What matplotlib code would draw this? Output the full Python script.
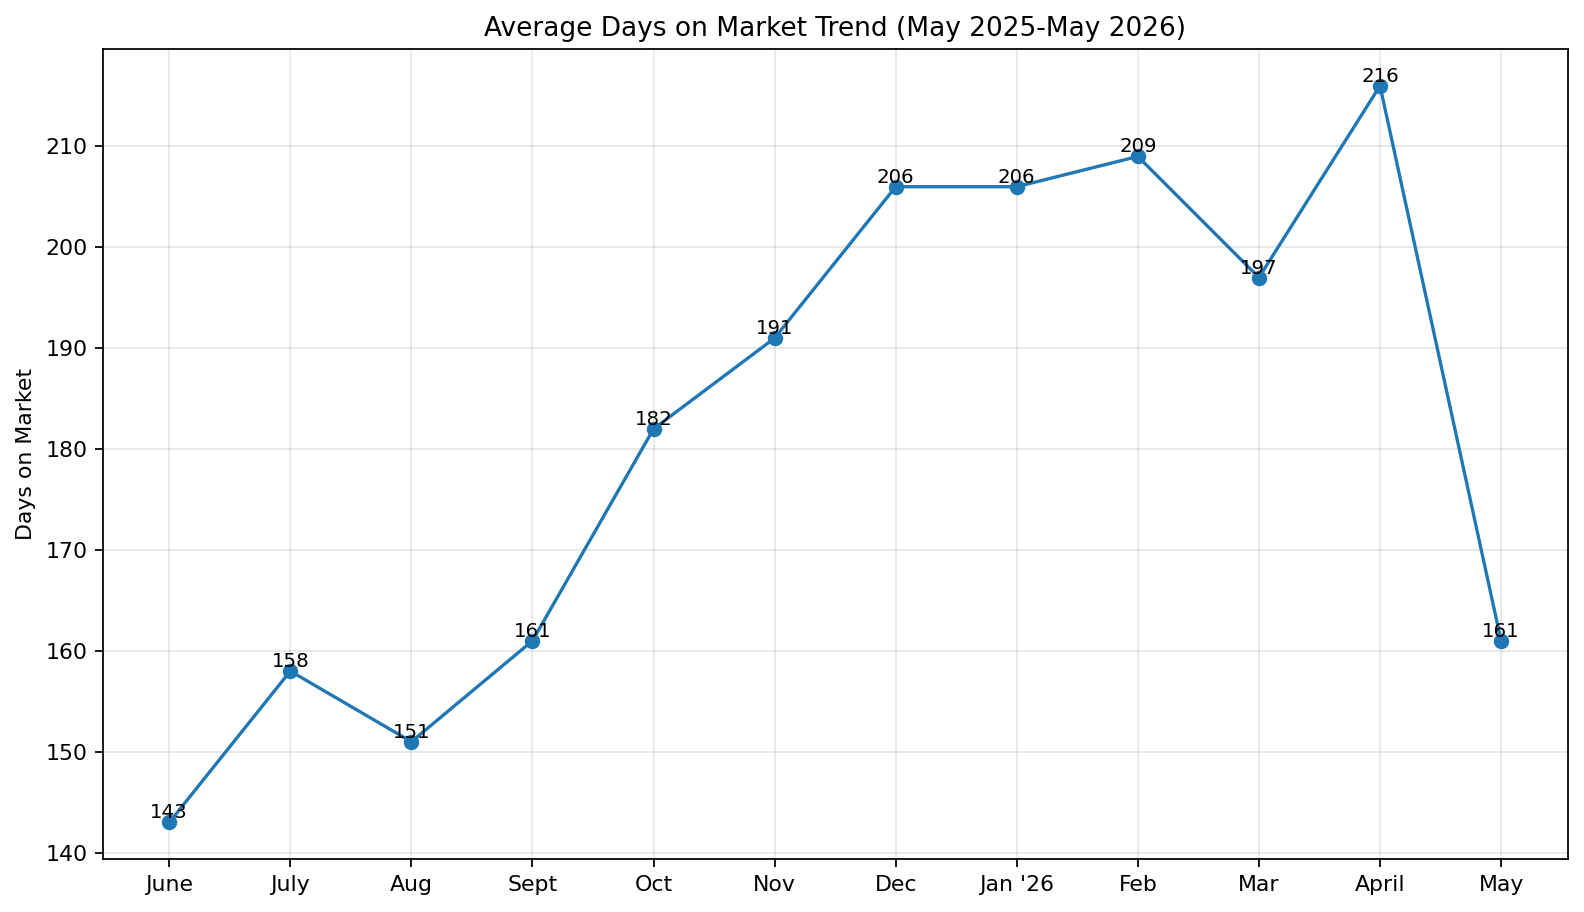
import matplotlib
matplotlib.use("Agg")
import matplotlib.pyplot as plt

months = ["June", "July", "Aug", "Sept", "Oct", "Nov", "Dec", "Jan '26", "Feb", "Mar", "April", "May"]
days = [143, 158, 151, 161, 182, 191, 206, 206, 209, 197, 216, 161]

DPI = 158.4
fig, ax = plt.subplots(figsize=(1584 / DPI, 912 / DPI), dpi=DPI)
x = list(range(len(months)))
ax.plot(x, days, marker='o', color='#1f77b4', linewidth=1.5, markersize=6)
for xi, v in zip(x, days):
    ax.text(xi, v, str(v), ha='center', va='bottom', fontsize=9)
ax.set_xticks(x)
ax.set_xticklabels(months)
ax.set_ylabel("Days on Market")
ax.set_title("Average Days on Market Trend (May 2025-May 2026)")
ax.grid(True, alpha=0.3)
fig.subplots_adjust(left=0.0648, right=0.9897, top=0.9463, bottom=0.0578)
fig.savefig("out.png", dpi=DPI)
